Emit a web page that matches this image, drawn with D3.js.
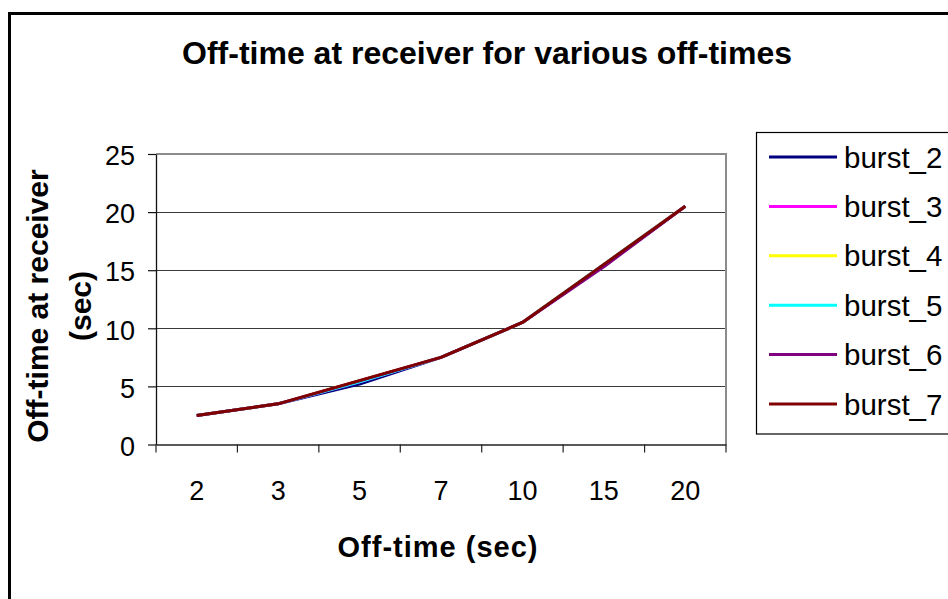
<!DOCTYPE html>
<html>
<head>
<meta charset="utf-8">
<script src="https://cdn.jsdelivr.net/npm/d3@7"></script>
<style>
  html, body { margin: 0; padding: 0; background: #fff; }
  svg { display: block; }
  svg text { font-family: "Liberation Sans", Arial, sans-serif; }
</style>
</head>
<body>
<svg id="chart" width="948" height="599"></svg>
<script>
// Off-time values (categories on the x axis)
const offTimes = ["2", "3", "5", "7", "10", "15", "20"];

// Measured off-time at receiver for each burst size
const burst2 = [2.5, 3.5, 5.2, 7.5, 10.5, 15.4, 20.5];
const burst3 = [2.5, 3.5, 5.4, 7.5, 10.5, 15.5, 20.5];
const burst4 = [2.5, 3.5, 5.5, 7.5, 10.5, 15.5, 20.5];
const burst5 = [2.5, 3.5, 5.4, 7.5, 10.5, 15.5, 20.5];
const burst6 = [2.5, 3.5, 5.5, 7.5, 10.5, 15.3, 20.5];
const burst7 = [2.5, 3.5, 5.5, 7.5, 10.5, 15.5, 20.5];

const seriesNames = ["burst_2", "burst_3", "burst_4", "burst_5", "burst_6", "burst_7"];
const seriesColors = ["#000080", "#ff00ff", "#ffff00", "#00ffff", "#800080", "#800000"];
const yTicks = [0, 5, 10, 15, 20, 25];

const series = [burst2, burst3, burst4, burst5, burst6, burst7].map((values, i) => ({
  name: seriesNames[i], color: seriesColors[i], values
}));

const FONT = "'Liberation Sans', Arial, sans-serif";
const svg = d3.select("#chart");

// Outer chart frame
svg.append("rect")
  .attr("x", 9.5).attr("y", 13.5)
  .attr("width", 960).attr("height", 620)
  .attr("fill", "none").attr("stroke", "#000").attr("stroke-width", 3);

const plot = { left: 156, right: 726, top: 154, bottom: 444.5 };

const x = d3.scaleBand().domain(offTimes).range([plot.left, plot.right]).padding(0);
const y = d3.scaleLinear().domain([0, 25]).range([plot.bottom, plot.top]);

// Horizontal gridlines
svg.append("g")
  .selectAll("line")
  .data(yTicks.filter(t => t > 0 && t < 25))
  .join("line")
  .attr("x1", plot.left).attr("x2", plot.right)
  .attr("y1", d => Math.round(y(d)) + 0.5).attr("y2", d => Math.round(y(d)) + 0.5)
  .attr("stroke", "#3a3a3a").attr("stroke-width", 1.2);

// Plot frame: top and right edges in grey
svg.append("path")
  .attr("d", `M${plot.left},${plot.top} H${plot.right} V${plot.bottom}`)
  .attr("fill", "none").attr("stroke", "#8c8c8c").attr("stroke-width", 2);

// Y axis
const yAxis = d3.axisLeft(y).tickValues(yTicks).tickSize(8).tickPadding(13).tickSizeOuter(0);
const gy = svg.append("g").attr("transform", `translate(${plot.left},0)`).call(yAxis)
  .attr("font-family", FONT);
gy.select(".domain").attr("stroke", "#111").attr("stroke-width", 1.3);
gy.selectAll(".tick line").attr("stroke", "#111").attr("stroke-width", 1.2);
gy.selectAll(".tick text")
  .attr("font-size", 27).attr("fill", "#000")
  .attr("dy", "0.36em")
  .attr("y", 1);

// X axis (category ticks at band edges)
const xAxis = d3.axisBottom(x).tickSize(0).tickPadding(0).tickSizeOuter(0);
const gx = svg.append("g").attr("transform", `translate(0,${plot.bottom})`).call(xAxis)
  .attr("font-family", FONT);
gx.select(".domain").attr("stroke", "#222").attr("stroke-width", 1.3);
gx.selectAll(".tick text")
  .attr("font-size", 27).attr("fill", "#000")
  .attr("dy", 0).attr("y", 55.5);

const edges = offTimes.map(c => x(c)).concat([plot.right]);
svg.append("g")
  .selectAll("line")
  .data(edges)
  .join("line")
  .attr("x1", d => d).attr("x2", d => d)
  .attr("y1", plot.bottom).attr("y2", plot.bottom + 8)
  .attr("stroke", "#222").attr("stroke-width", 1.2);

// Series lines, later series drawn on top
const line = d3.line()
  .x((d, i) => x(offTimes[i]) + x.bandwidth() / 2)
  .y(d => y(d));

svg.append("g")
  .selectAll("path")
  .data(series)
  .join("path")
  .attr("d", d => line(d.values))
  .attr("fill", "none")
  .attr("stroke", d => d.color)
  .attr("stroke-width", 3)
  .attr("stroke-linejoin", "round");

// Title
svg.append("text")
  .attr("x", 487).attr("y", 64)
  .attr("text-anchor", "middle")
  .attr("font-size", 32).attr("font-weight", "bold")
  .text("Off-time at receiver for various off-times");

// X axis title
svg.append("text")
  .attr("x", 438).attr("y", 557)
  .attr("text-anchor", "middle")
  .attr("font-size", 29).attr("font-weight", "bold")
  .attr("letter-spacing", 1)
  .text("Off-time (sec)");

// Y axis title on two lines
const yTitle = svg.append("g").attr("transform", "translate(0,306) rotate(-90)");
yTitle.append("text")
  .attr("x", 0).attr("y", 48)
  .attr("text-anchor", "middle")
  .attr("font-size", 30).attr("font-weight", "bold")
  .text("Off-time at receiver");
yTitle.append("text")
  .attr("x", 0).attr("y", 91)
  .attr("text-anchor", "middle")
  .attr("font-size", 30).attr("font-weight", "bold")
  .text("(sec)");

// Legend
const legend = svg.append("g");
legend.append("rect")
  .attr("x", 756.5).attr("y", 132.5)
  .attr("width", 260).attr("height", 301.5)
  .attr("fill", "#fff").attr("stroke", "#000").attr("stroke-width", 1.2);

const legendY = d3.scalePoint().domain(seriesNames).range([157, 404]);
const items = legend.selectAll("g.item")
  .data(series)
  .join("g")
  .attr("class", "item")
  .attr("transform", d => `translate(0,${legendY(d.name)})`);
items.append("line")
  .attr("x1", 769).attr("x2", 837)
  .attr("stroke", d => d.color).attr("stroke-width", 3);
items.append("text")
  .attr("x", 844).attr("y", 10.5)
  .attr("font-size", 29.5)
  .text(d => d.name);
</script>
</body>
</html>
